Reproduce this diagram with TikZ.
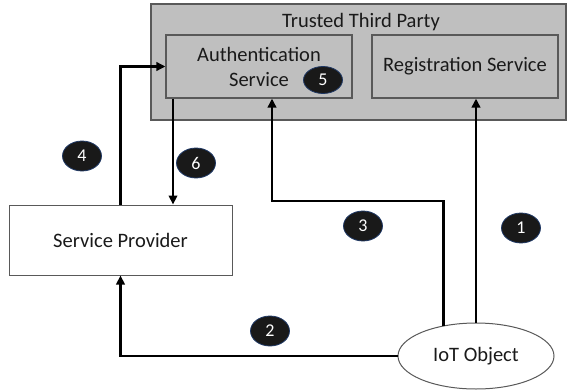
\documentclass[tikz,border=0pt]{standalone}
\usepackage{fontspec}
\setmainfont{Carlito}
\usetikzlibrary{shapes.geometric,arrows.meta}
\definecolor{ttpgray}{HTML}{BFBFBF}
\definecolor{edgegray}{HTML}{595959}
\definecolor{txt}{HTML}{1A1A1A}
\definecolor{badgeedge}{HTML}{1F3864}
\tikzset{
  lbl/.style={text=txt, font=\fontsize{20.5}{25}\selectfont},
  boxa/.style={lbl, draw=edgegray, line width=1.2pt, fill=ttpgray, rectangle, inner sep=0pt, align=center},
  spbox/.style={lbl, draw=edgegray, line width=1pt, fill=white, rectangle, inner sep=0pt},
  iotshape/.style={lbl, draw=edgegray, line width=1pt, fill=white, ellipse, inner sep=0pt},
  badge/.style={ellipse, fill=black!90, draw=badgeedge, line width=0.8pt, minimum width=39pt, minimum height=30pt, inner sep=0pt, text=white, font=\fontsize{18}{20}\selectfont},
  flow/.style={line width=2.8pt, -{Triangle[length=9pt,width=8.5pt]}}
}
\begin{document}
\begin{tikzpicture}[x=1pt,y=-1pt]
\useasboundingbox (0,0) rectangle (568,391);
\node[boxa, minimum width=415pt, minimum height=116pt] (ttp) at (358.5,62) {};
\node[lbl] (ttplabel) at (361,22) {Trusted Third Party};
\node[boxa, minimum width=186pt, minimum height=63pt] (auth) at (259,66.5) {Authentication\\Service};
\node[boxa, minimum width=186pt, minimum height=63pt] (reg) at (465,66.5) {Registration Service};
\node[spbox, minimum width=223pt, minimum height=70pt] (sp) at (120.5,240) {Service Provider};
\node[iotshape, minimum width=156pt, minimum height=66pt] (iot) at (476,356) {IoT Object};
\coordinate (c6) at (173,0);
\coordinate (k3) at (272,201);
\draw[flow] (sp.north) |- (auth.west);
\draw[flow] (auth.south -| c6) -- (sp.north -| c6);
\draw[flow] (iot.west) -| (sp.south);
\draw[flow] (iot.137) |- (k3) -- (k3 |- auth.south);
\draw[flow] (iot.north) -- (iot.north |- reg.south);
\node[badge, minimum height=27pt] (b5) at (323,80) {5};
\node[badge] (b4) at (82,156) {4};
\node[badge] (b6) at (196,163) {6};
\node[badge] (b2) at (270,331) {2};
\node[badge] (b3) at (363,226) {3};
\node[badge] (b1) at (521,228) {1};
\end{tikzpicture}
\end{document}
